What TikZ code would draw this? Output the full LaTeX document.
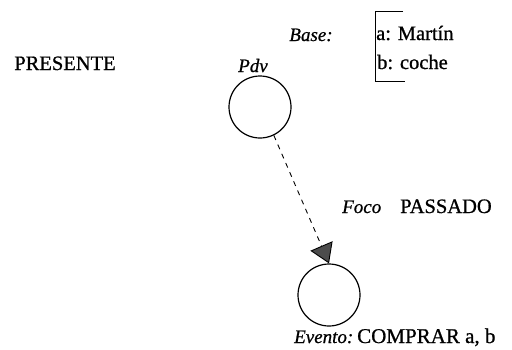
\documentclass[tikz,border=0pt]{standalone}
\usepackage{fontspec}
\setmainfont{Liberation Serif}[FakeBold=0.8]
\usetikzlibrary{arrows.meta}
\begin{document}
\begin{tikzpicture}[x=1pt,y=-1pt,
  lbl/.style={inner sep=0pt,anchor=base,font=\fontsize{20.5}{22}\selectfont},
  ital/.style={lbl,font=\fontsize{19}{21}\selectfont\itshape},
  state/.style={draw,circle,minimum size=62pt,inner sep=0pt,line width=1.2pt},
  link/.style={dashed,dash pattern=on 5pt off 5pt,line width=0.9pt,
    -{Triangle[length=19pt,width=24pt,fill=black!70]}}]
\useasboundingbox (0,0) rectangle (512,349);
% time points
\node[state] (pdv) at (260,107) {};
\node[state] (evento) at (329,295) {};
% labels
\node[lbl] (presente) at (65,70) {PRESENTE};
\node[ital] (pdvlbl) at (253,72) {Pdv};
\node[ital] (base) at (311,41) {Base:};
\node[lbl,anchor=base west] (ma) at (376,40) {a: Martín};
\node[lbl,anchor=base west] (mb) at (377,69) {b: coche};
\node[ital,anchor=base west] (foco) at (342,213) {Foco};
\node[lbl,anchor=base west] (pasado) at (400,213) {PASSADO};
\node[ital,anchor=base west] (evlbl) at (294,343) {Evento:};
\node[lbl,anchor=base west,font=\fontsize{21}{23}\selectfont] (compr) at (357,343) {COMPRAR a, b};
% bracket grouping the base referents
\coordinate (bt) at (403,11);
\coordinate (bb) at (405,81);
\draw[line width=0.9pt] (bt) -- (375,11) -- (375,81) -- (bb);
% focus link
\draw[link] (pdv.296) -- (evento.north);
\end{tikzpicture}
\end{document}
